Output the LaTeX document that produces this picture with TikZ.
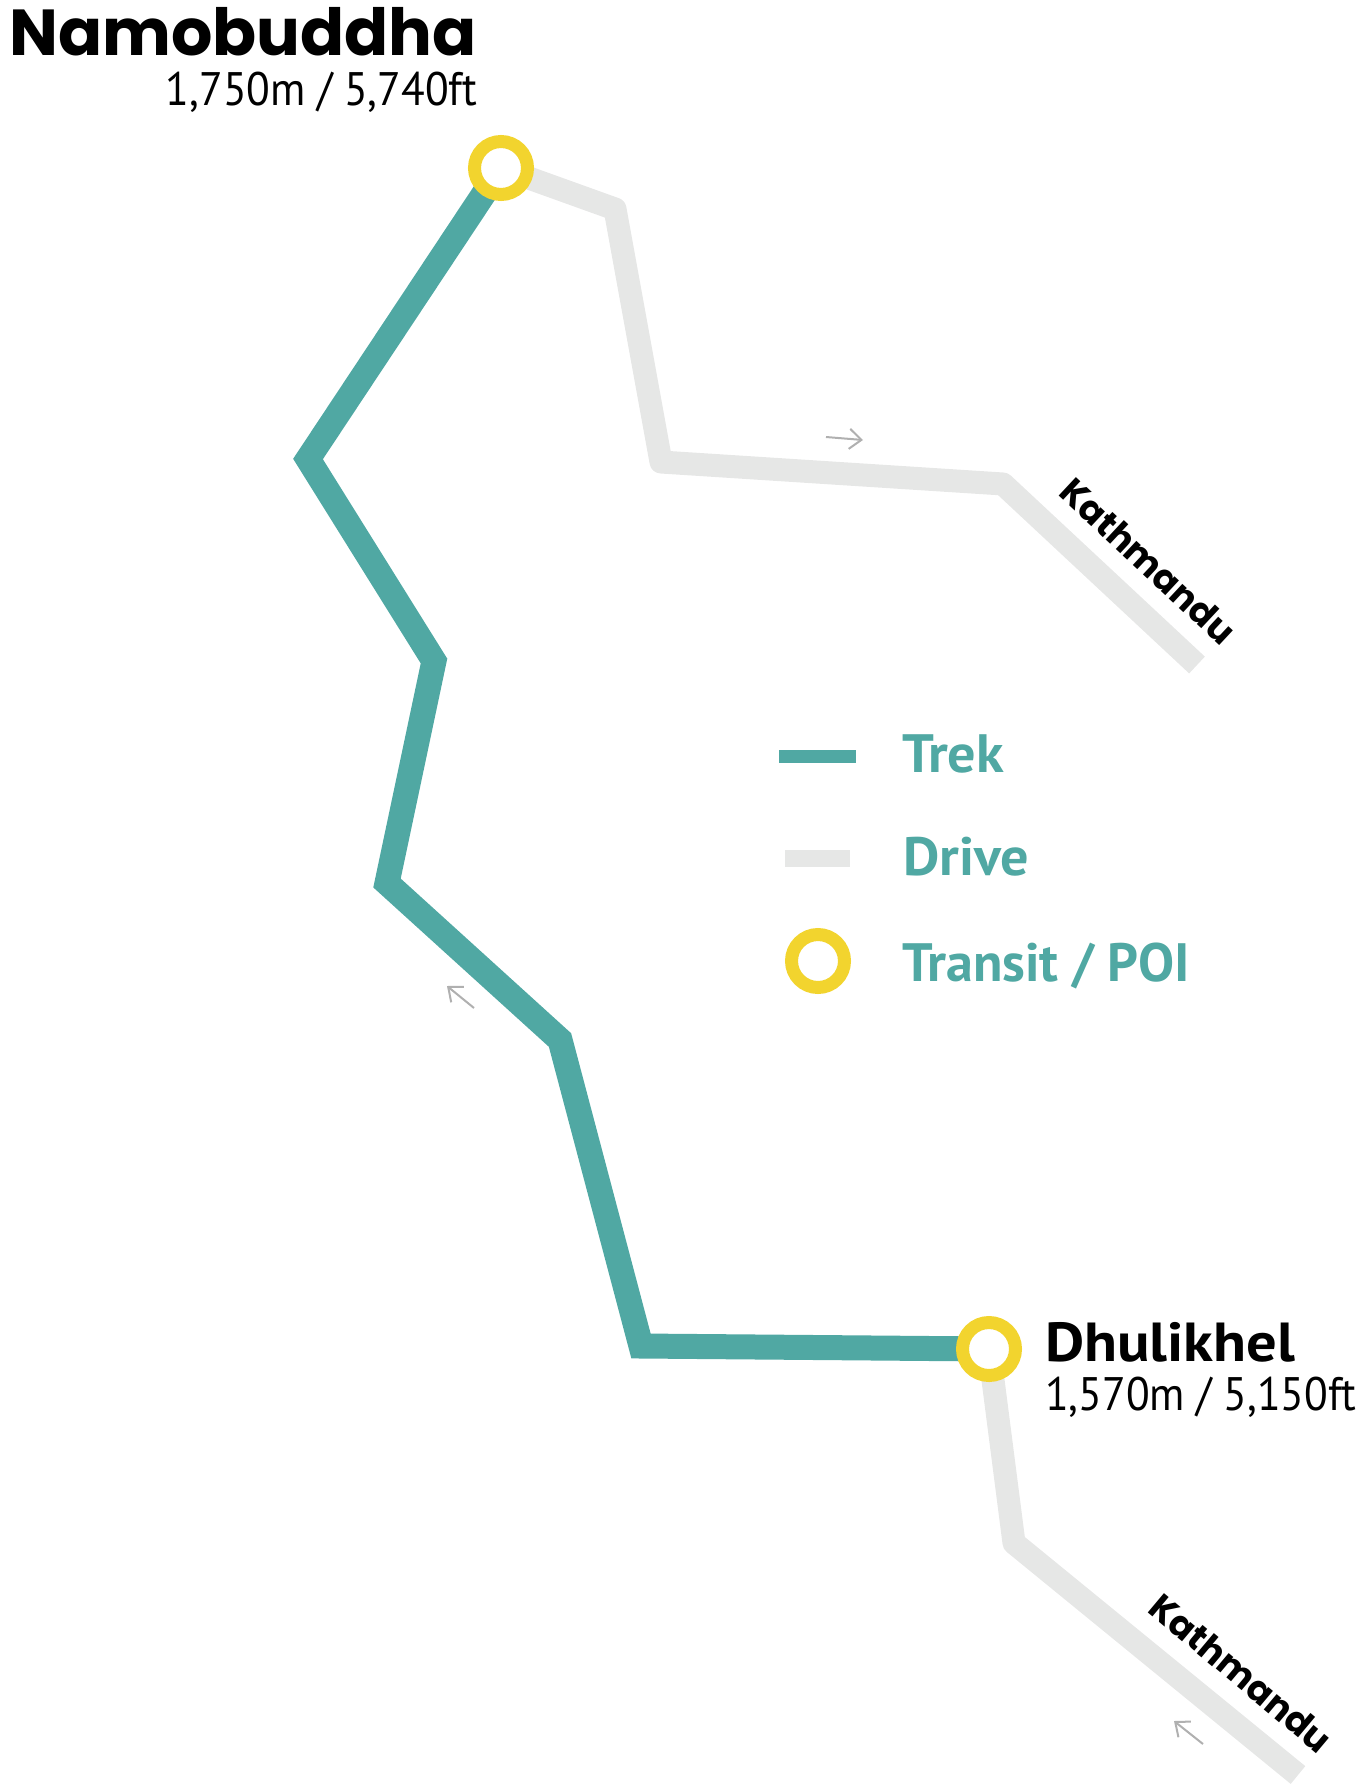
\documentclass[tikz,border=0pt]{standalone}
\usepackage{fontspec}
\setmainfont{PT Sans}
\newfontfamily\pop{Poppins}
\newfontfamily\elevfont{PT Sans}[FakeStretch=0.925]
\newfontfamily\placefont{PT Sans}[FakeStretch=1.1]
\newfontfamily\legfont{PT Sans}[FakeStretch=1.04]
\usetikzlibrary{arrows.meta,backgrounds}
\definecolor{trek}{RGB}{80,168,163}
\definecolor{drive}{RGB}{230,231,230}
\definecolor{poi}{RGB}{242,212,46}
\definecolor{arrowgray}{RGB}{176,176,176}
\begin{document}
\begin{tikzpicture}[x=1pt,y=-1pt,
  trekline/.style={draw=trek, line width=25pt, line join=miter},
  driveline/.style={draw=drive, line width=23pt, line join=round},
  poiring/.style={circle, draw=poi, line width=13pt, fill=white, minimum size=53pt, inner sep=0pt},
  dirarrow/.style={draw=arrowgray, line width=2pt, -{Straight Barb[length=12pt,width=20pt]}},
  placename/.style={inner sep=0pt, font=\placefont\bfseries\fontsize{55}{60}\selectfont},
  elev/.style={inner sep=0pt, font=\elevfont\fontsize{47}{54}\selectfont},
  roadlabel/.style={inner sep=0pt, font=\pop\bfseries\fontsize{36}{44}\selectfont},
  legendtext/.style={inner sep=0pt, anchor=base west, text=trek, font=\bfseries\fontsize{54}{60}\selectfont}]
\useasboundingbox (0,0) rectangle (1367,1791);

% transit points
\node[poiring] (N) at (501,168) {};
\node[poiring] (D) at (989,1349) {};

% route vertices
\coordinate (t1) at (308,459);
\coordinate (t2) at (434,661);
\coordinate (t3) at (387,883);
\coordinate (t4) at (560,1040);
\coordinate (t5) at (641,1346);
\coordinate (d1) at (615,209);
\coordinate (d2) at (661,462);
\coordinate (d3) at (1003,484);
\coordinate (d4) at (1197,665);
\coordinate (e1) at (1014,1543);
\coordinate (e2) at (1298,1775);

\begin{scope}[on background layer]
\draw[driveline] (N.center) -- (d1) -- (d2) -- (d3) -- (d4);
\draw[driveline] (D.center) -- (e1) -- (e2);
\draw[trekline] (N.center) -- (t1) -- (t2) -- (t3) -- (t4) -- (t5) -- (D.center);
\end{scope}

% direction arrows
\coordinate (a1s) at (826,437); \coordinate (a1e) at (863,440);
\coordinate (a2s) at (474,1008); \coordinate (a2e) at (447,986);
\coordinate (a3s) at (1203,1744); \coordinate (a3e) at (1174,1721);
\draw[dirarrow] (a1s) -- (a1e);
\draw[dirarrow] (a2s) -- (a2e);
\draw[dirarrow] (a3s) -- (a3e);

% labels
\node[anchor=base west, inner sep=0pt, font=\pop\bfseries\fontsize{65}{76}\selectfont] (namo) at (9,55) {Namobuddha};
\node[elev, anchor=base east] (namoel) at (477,105) {1,750m / 5,740ft};
\node[placename, anchor=base west] (dhul) at (1045,1361) {Dhulikhel};
\node[elev, anchor=base west] (dhulel) at (1045,1410) {1,570m / 5,150ft};
\node[roadlabel, rotate=-43] (k1) at (1148,561) {Kathmandu};
\node[roadlabel, rotate=-40] (k2) at (1241,1673) {Kathmandu};

% legend
\coordinate (l1a) at (779,756.5); \coordinate (l1b) at (856,756.5);
\coordinate (l2a) at (785,858.5); \coordinate (l2b) at (850,858.5);
\draw[draw=trek, line width=13pt] (l1a) -- (l1b);
\draw[draw=drive, line width=17pt] (l2a) -- (l2b);
\node[poiring] (lpoi) at (818,961) {};
\node[legendtext, font=\legfont\bfseries\fontsize{54}{60}\selectfont] (ltrek) at (902,772) {Trek};
\node[legendtext, font=\legfont\bfseries\fontsize{54}{60}\selectfont] (ldrive) at (903,875) {Drive};
\node[legendtext] (lpoit) at (902,981) {Transit / POI};
\end{tikzpicture}
\end{document}
